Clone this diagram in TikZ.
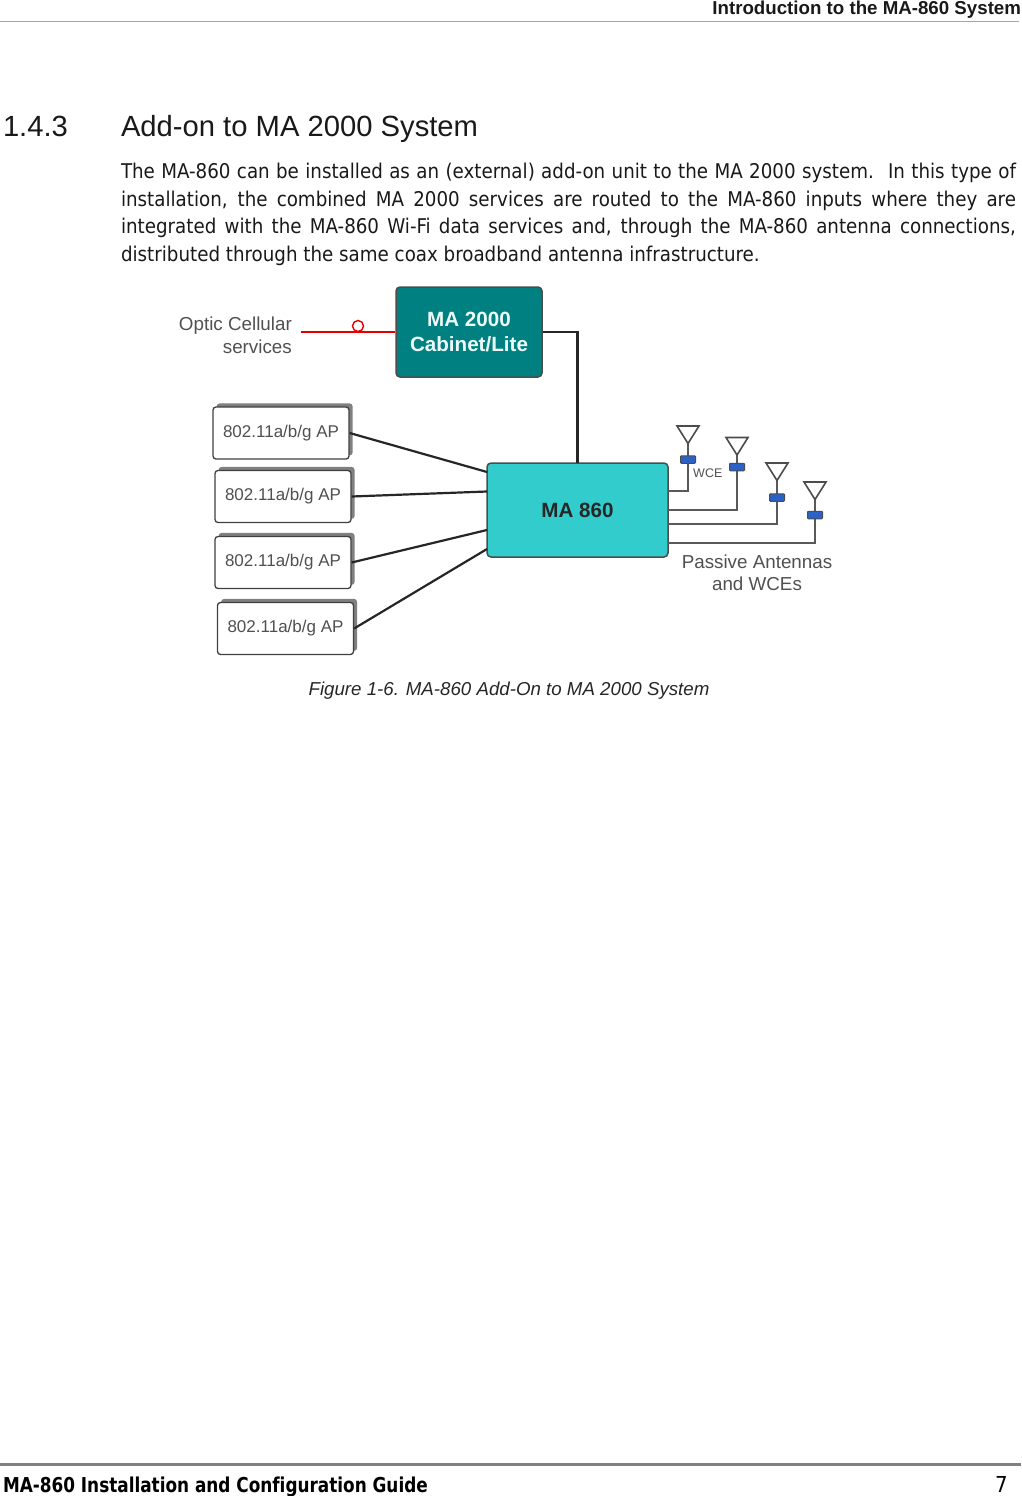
\documentclass[tikz,border=0pt]{standalone}
\usepackage{fontspec}
\setmainfont{Liberation Sans}
\newfontfamily\bodyfont{DejaVu Sans Condensed}
\newfontfamily\footfont[FakeStretch=0.915,RawFeature={-liga}]{DejaVu Sans Condensed Bold}
\usetikzlibrary{shadows}
\definecolor{tealbox}{HTML}{008080}
\definecolor{cyanbox}{HTML}{33CCCC}
\definecolor{wceblue}{HTML}{2A62C8}
\definecolor{labelgrey}{HTML}{505050}
\tikzset{
  txt/.style={inner sep=0pt,outer sep=0pt,anchor=base west},
  bodyline/.style={txt,font=\bodyfont\fontsize{20.3}{24}\selectfont,text=black!90},
  ap/.style={draw=black!75,line width=1.3pt,rounded corners=3pt,fill=white,minimum width=136pt,minimum height=52pt,inner sep=0pt,
    font=\fontsize{17}{20}\selectfont,text=labelgrey,general shadow={shadow xshift=3.6pt,shadow yshift=3.6pt,fill=black!50}},
  mainbox/.style={draw=black!70,line width=1.5pt,rounded corners=4pt,inner sep=0pt,align=center,font=\bfseries\fontsize{20.6}{25}\selectfont},
  wire/.style={draw=black!85,line width=2.2pt},
  feed/.style={draw=black!65,line width=2pt},
  ant/.style={draw=black!70,line width=1.6pt,fill=white,line join=miter},
  wce/.style={draw=black!70,line width=1pt,fill=wceblue,rounded corners=0.8pt,minimum width=15pt,minimum height=7.5pt,inner sep=0pt},
  lbl/.style={inner sep=0pt,align=center,text=labelgrey,font=\fontsize{18.8}{22.5}\selectfont}
}
\newcommand{\jline}[1]{\makebox[895pt][s]{#1}}
\begin{document}
\begin{tikzpicture}[x=1pt,y=-1pt]
\useasboundingbox (0,0) rectangle (1021,1496);
% running header and footer
\node[txt,anchor=base east,font=\bfseries\fontsize{18.7}{20}\selectfont,text=black!90] (hdr) at (1021,14.5) {Introduction to the MA-860 System};
\coordinate (hl) at (0,21.5); \coordinate (hr) at (1019,21.5);
\draw[black!35,line width=1pt] (hl) -- (hr);
\coordinate (fl) at (0,1464.5); \coordinate (fr) at (1021,1464.5);
\draw[black!50,line width=3pt] (fl) -- (fr);
\node[txt,font=\footfont\fontsize{20.5}{24}\selectfont] (ftr) at (3,1492) {MA-860 Installation and Configuration Guide};
\node[txt,font=\bodyfont\fontsize{22}{24}\selectfont] (pg) at (995,1492) {7};
% heading and body
\node[txt,font=\fontsize{29.2}{34}\selectfont,text=black!90] (secnum) at (3,136.5) {1.4.3};
\node[txt,font=\fontsize{29.2}{34}\selectfont,text=black!90] (sectitle) at (121,136.5) {Add-on to MA 2000 System};
\node[bodyline] (b1) at (121,178) {\jline{The MA-860 can be installed as an (external) add-on unit to the MA 2000 system.\hspace{0.7em}In this type of}};
\node[bodyline] (b2) at (121,206) {\jline{installation, the combined MA 2000 services are routed to the MA-860 inputs where they are}};
\node[bodyline] (b3) at (121,233.5) {\jline{integrated with the MA-860 Wi-Fi data services and, through the MA-860 antenna connections,}};
\node[bodyline] (b4) at (121,261) {distributed through the same coax broadband antenna infrastructure.};
% diagram boxes
\node[mainbox,fill=tealbox,text=white!92!cyanbox,minimum width=146pt,minimum height=90pt] (ma2000) at (469,332) {MA 2000\\Cabinet/Lite};
\node[mainbox,fill=cyanbox,text=black!85,minimum width=181pt,minimum height=94pt] (ma860) at (577.5,510) {MA 860};
\node[ap] (ap1) at (281,433) {802.11a/b/g AP};
\node[ap] (ap2) at (283,496.5) {802.11a/b/g AP};
\node[ap] (ap3) at (283,562.5) {802.11a/b/g AP};
\node[ap] (ap4) at (285.5,628.5) {802.11a/b/g AP};
% labels
\node[lbl,align=right,anchor=north east] (optic) at (292,317) {Optic Cellular\\services};
\node[lbl] (passive) at (757,573) {Passive Antennas\\and WCEs};
\node[lbl,font=\fontsize{12.5}{14}\selectfont,anchor=west] (wcelabel) at (693,473) {WCE};
% connectors into the MA 860
\coordinate (m1) at (487,472); \coordinate (m2) at (487,491.5); \coordinate (m3) at (487,530); \coordinate (m4) at (487,549);
\draw[wire] (ap1.east) -- (m1);
\draw[wire] (ap2.east) -- (m2);
\draw[wire] (ap3.east) -- (m3);
\draw[wire] (ap4.east) -- (m4);
\coordinate (topin) at (577.5,463);
\draw[wire,line join=miter] (ma2000.east) -| (topin);
% optic feed
\coordinate (opt) at (300.5,332);
\draw[red!90!black,line width=2pt] (opt) -- (ma2000.west);
\node[circle,draw=red!90!black,line width=1.4pt,fill=white,minimum size=11pt,inner sep=0pt] (ring) at (358,326) {};
% antennas: apex, feeder via WCE block down to the MA 860
\foreach \n/\cx/\ty/\by/\fy in {a/688/426/459.5/491,b/737/437.5/467/510,c/777/463/497.5/524,d/815/482/515/543}{
  \coordinate (tip\n) at (\cx,\ty+17.5);
  \coordinate (tl\n) at (\cx-11,\ty);
  \coordinate (tr\n) at (\cx+11,\ty);
  \coordinate (root\n) at (\cx,\fy);
  \coordinate (src\n) at (668,\fy);
  \draw[feed,line join=miter] (src\n) -- (root\n) -- (tip\n);
  \draw[ant] (tl\n) -- (tr\n) -- (tip\n) -- cycle;
  \node[wce] (wce\n) at (\cx,\by) {};
}
% caption
\node[txt,font=\itshape\fontsize{18.7}{22}\selectfont,text=black!85,anchor=base] (cap) at (509,695) {Figure 1-6. MA-860 Add-On to MA 2000 System};
\end{tikzpicture}
\end{document}
